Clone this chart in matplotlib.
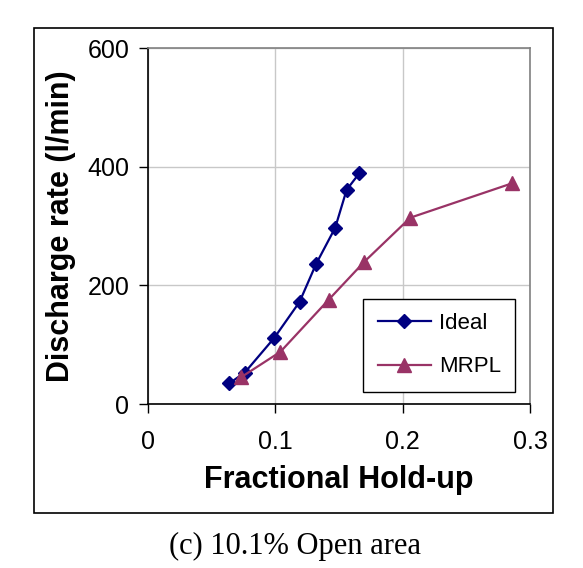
import matplotlib
matplotlib.use('Agg')
import matplotlib.pyplot as plt
from matplotlib.patches import Rectangle

# data
ideal_x = [0.064, 0.076, 0.099, 0.119, 0.132, 0.147, 0.156, 0.166]
ideal_y = [35, 53, 111, 172, 236, 297, 361, 389]
mrpl_x = [0.073, 0.104, 0.142, 0.170, 0.206, 0.286]
mrpl_y = [45, 88, 176, 240, 314, 372]

x_ticks = [0, 0.1, 0.2, 0.3]
x_tick_labels = ['0', '0.1', '0.2', '0.3']
y_ticks = [0, 200, 400, 600]

plt.rcParams['font.family'] = ['Liberation Sans', 'DejaVu Sans']

fig = plt.figure(figsize=(5.83, 5.68), dpi=100)
ax = fig.add_axes([148 / 583, 1 - 404 / 568, 382 / 583, 356 / 568])

# outer chart frame
fig.patches.append(Rectangle((34 / 583, 1 - 513 / 568), 519 / 583, 485 / 568,
                             transform=fig.transFigure, fill=False,
                             edgecolor='black', linewidth=1.2))

ax.plot(ideal_x, ideal_y, color='#000080', marker='D', markersize=7,
        linewidth=1.6, label='Ideal', zorder=3)
ax.plot(mrpl_x, mrpl_y, color='#993366', marker='^', markersize=10.5,
        linewidth=1.6, label='MRPL', zorder=3)

ax.set_xlim(0, 0.3)
ax.set_ylim(0, 600)
ax.set_xticks(x_ticks)
ax.set_xticklabels(x_tick_labels)
ax.set_yticks(y_ticks)
ax.tick_params(direction='out', length=6.5, width=1, labelsize=18)
ax.tick_params(axis='x', pad=12)
ax.tick_params(axis='y', pad=7)
ax.grid(True, color='#c8c8c8', linewidth=1)
ax.set_axisbelow(True)

for side in ['top', 'right']:
    ax.spines[side].set_color('#808080')
    ax.spines[side].set_linewidth(1.2)
for side in ['left', 'bottom']:
    ax.spines[side].set_color('black')
    ax.spines[side].set_linewidth(1.2)

ax.set_xlabel('Fractional Hold-up', fontsize=22, fontweight='bold', labelpad=8)
ax.set_ylabel('Discharge rate (l/min)', fontsize=22, fontweight='bold', labelpad=8)

leg = ax.legend(loc='lower right', bbox_to_anchor=(0.961, 0.034), borderaxespad=0,
                fontsize=16, fancybox=False, framealpha=1, edgecolor='black',
                handlelength=2.4, handletextpad=0.35, labelspacing=1.0,
                borderpad=0.65)
leg.get_frame().set_linewidth(1)

fig.text(295 / 583, 1 - 546 / 568, '(c) 10.1% Open area', ha='center', va='center',
         fontsize=22, family=['Liberation Serif', 'DejaVu Serif'])

fig.savefig('out.png', dpi=100)
